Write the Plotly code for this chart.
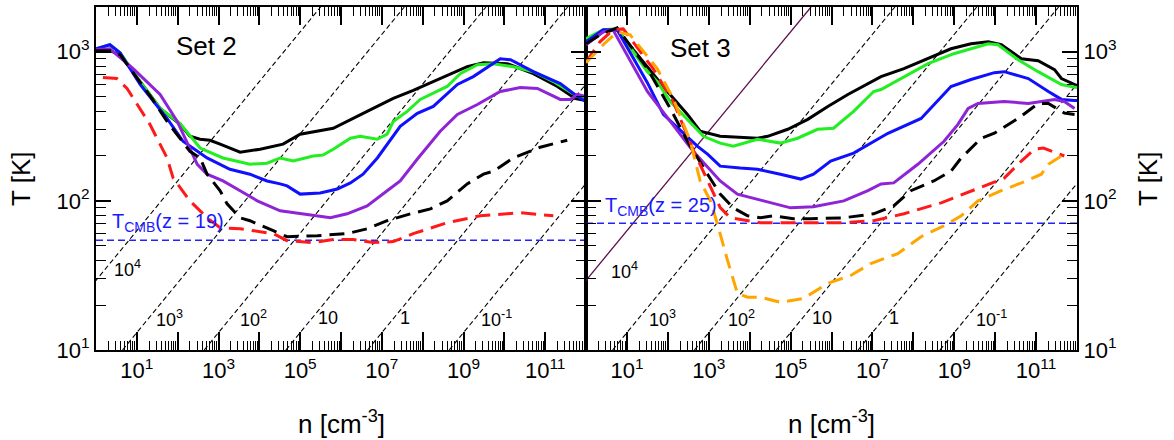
import plotly.graph_objects as go

# ---------------- data (log10 n [cm^-3], T [K]) ----------------
# Set 2
s2_black_logn = [0.0, 0.34, 0.59, 1.08, 1.57, 2.06, 2.30, 2.55, 2.79, 3.04, 3.53, 4.02, 4.58, 5.0, 5.81, 6.64, 7.28, 7.77, 8.43, 9.09, 9.49, 10.07, 10.71, 11.3, 11.74, 12.0]
s2_black_T = [1016, 1016, 955, 631, 417, 326, 271, 259, 255, 240, 212, 222, 240, 280, 307, 398, 486, 550, 661, 794, 845, 832, 713, 585, 486, 470]

s2_green_logn = [0.0, 0.34, 0.59, 1.08, 1.57, 2.06, 2.55, 3.11, 3.77, 4.19, 4.51, 4.83, 5.32, 5.56, 5.81, 6.23, 6.47, 6.89, 7.13, 7.28, 7.62, 7.94, 8.60, 8.92, 9.34, 9.73, 10.22, 10.71, 11.20, 11.79, 12.0]
s2_green_T = [1047, 1114, 985, 631, 417, 330, 226, 194, 176, 179, 194, 185, 200, 203, 222, 263, 271, 259, 280, 341, 398, 479, 585, 713, 819, 832, 794, 735, 631, 501, 479]

s2_blue_logn = [0.0, 0.34, 0.59, 1.08, 1.74, 2.13, 2.72, 3.28, 3.77, 4.19, 4.51, 4.68, 5.0, 5.49, 5.91, 6.23, 6.54, 6.89, 7.45, 7.87, 8.26, 8.85, 9.24, 9.90, 10.15, 10.71, 11.37, 11.79, 12.0]
s2_blue_T = [1047, 1114, 985, 603, 357, 251, 194, 163, 151, 136, 130, 126, 111, 113, 120, 132, 151, 194, 316, 386, 430, 603, 681, 898, 884, 735, 612, 501, 464]

s2_purple_logn = [0.0, 0.34, 0.91, 1.57, 1.99, 2.48, 2.72, 3.11, 3.53, 3.95, 4.51, 5.0, 5.74, 6.15, 6.64, 7.13, 7.45, 7.87, 8.43, 8.85, 9.34, 9.90, 10.39, 10.81, 11.37, 11.62, 11.79, 12.0]
s2_purple_T = [1031, 1047, 770, 517, 341, 176, 151, 136, 117, 100, 85.8, 81.9, 77.0, 81.9, 92.6, 117, 136, 191, 293, 380, 443, 541, 575, 567, 479, 479, 517, 501]

s2_blackd_logn = [0.0, 0.34, 0.59, 1.08, 1.37, 1.74, 2.06, 2.30, 2.55, 2.72, 3.04, 3.21, 3.53, 3.77, 4.34, 4.68, 5.42, 6.15, 6.64, 7.13, 7.70, 8.19, 8.60, 9.09, 9.49, 9.73, 10.22, 10.88, 11.54]
s2_blackd_T = [1016, 1016, 955, 631, 486, 341, 263, 215, 194, 151, 117, 95.5, 77.0, 73.6, 63.1, 57.5, 58.4, 60.3, 65.0, 73.6, 81.9, 88.4, 100, 130, 151, 158, 194, 229, 255]

s2_red_logn = [0.17, 0.51, 0.76, 1.08, 1.32, 1.74, 1.89, 2.30, 2.72, 3.04, 3.53, 4.34, 4.68, 5.32, 5.81, 6.30, 6.79, 7.28, 7.77, 8.60, 9.41, 10.39, 11.20]
s2_red_T = [671, 661, 567, 417, 326, 194, 142, 100, 77, 66, 65, 60.3, 54.1, 52.5, 55.0, 55.0, 52.5, 53.3, 60.3, 71.3, 79.4, 83.2, 79.4]

# Set 3
s3_black_logn = [0.0, 0.42, 0.76, 1.50, 1.99, 2.48, 2.79, 3.28, 3.70, 4.19, 4.44, 4.93, 5.42, 5.91, 6.40, 6.89, 7.21, 7.77, 8.36, 8.92, 9.41, 9.83, 10.15, 10.64, 11.05, 11.45, 11.62, 11.94, 12.0]
s3_black_T = [1131, 1359, 1402, 794, 541, 380, 293, 271, 267, 263, 271, 302, 352, 430, 517, 612, 681, 770, 898, 1047, 1131, 1166, 1114, 898, 871, 758, 661, 603, 585]

s3_green_logn = [0.0, 0.42, 0.76, 1.50, 1.74, 2.06, 2.87, 3.28, 3.60, 4.19, 4.75, 5.17, 5.66, 6.05, 6.54, 7.03, 7.21, 7.77, 8.36, 8.99, 9.83, 10.07, 10.56, 11.05, 11.62, 11.86, 12.0]
s3_green_T = [1222, 1402, 1423, 735, 631, 464, 271, 244, 233, 259, 244, 263, 302, 307, 398, 541, 558, 681, 832, 970, 1131, 1114, 884, 735, 603, 585, 575]

s3_blue_logn = [0.0, 0.42, 0.76, 1.50, 1.89, 2.30, 2.72, 2.97, 3.28, 3.77, 4.19, 4.75, 5.25, 5.56, 5.98, 6.54, 7.03, 7.38, 8.19, 8.92, 9.41, 9.98, 10.22, 10.81, 11.30, 11.62, 11.94, 12.0]
s3_blue_T = [1166, 1402, 1402, 620, 380, 300, 233, 206, 171, 166, 163, 151, 140, 151, 185, 209, 251, 284, 357, 585, 651, 724, 735, 661, 541, 479, 471, 471]

s3_purple_logn = [0.0, 0.42, 0.66, 1.50, 2.06, 2.62, 3.28, 3.70, 4.34, 5.0, 5.56, 6.30, 6.89, 7.21, 7.52, 8.11, 8.75, 9.09, 9.34, 9.58, 10.22, 10.81, 11.45, 11.69, 11.94]
s3_purple_T = [1114, 1359, 1402, 541, 341, 215, 136, 111, 100, 89.8, 91.2, 100, 117, 130, 132, 176, 251, 326, 417, 450, 464, 450, 479, 464, 417]

s3_blackd_logn = [0.0, 0.34, 0.76, 1.50, 2.06, 2.48, 2.97, 3.28, 3.60, 3.95, 4.26, 4.58, 5.07, 5.49, 6.30, 7.03, 7.52, 7.94, 8.50, 8.92, 9.17, 9.66, 9.98, 10.56, 11.05, 11.30, 11.69, 11.94]
s3_blackd_T = [1131, 1298, 1445, 770, 417, 251, 151, 111, 89.8, 79.4, 77.0, 79.4, 75.9, 75.9, 77.0, 81.9, 92.6, 117, 136, 158, 194, 263, 284, 357, 450, 450, 388, 380]

s3_red_logn = [0.0, 0.34, 0.66, 0.91, 1.64, 2.13, 2.62, 2.97, 3.28, 3.53, 4.26, 5.07, 6.23, 7.03, 7.77, 8.68, 9.58, 10.22, 10.64, 10.96, 11.18, 11.54, 11.69]
s3_red_T = [850, 1166, 1402, 1423, 770, 464, 220, 136, 90, 77, 71.3, 71.3, 71.3, 73.6, 81.9, 97, 122, 142, 185, 222, 226, 206, 200]

s3_orange_logn = [0.0, 0.42, 0.76, 1.08, 1.74, 2.13, 2.55, 2.79, 3.04, 3.21, 3.46, 3.70, 3.95, 4.26, 4.75, 5.32, 5.91, 6.47, 6.96, 7.62, 8.19, 8.75, 9.17, 9.58, 10.15, 10.64, 11.13, 11.30, 11.62]
s3_orange_T = [845, 1114, 1359, 1298, 770, 486, 251, 136, 100, 70.3, 39.8, 24.0, 22.6, 22.6, 20.9, 22.2, 28.0, 31.6, 38.0, 44.3, 57.5, 68.1, 79.4, 100, 117, 132, 151, 176, 200]

# Jeans-mass reference lines: mass labels and log10 n where each line hits T = 10 K
jeans_labels = ["10<sup>4</sup>", "10<sup>3</sup>", "10<sup>2</sup>", "10", "1", "10<sup>-1</sup>"]
jeans_logn_at_T10 = [-1.4, 0.65, 2.65, 4.65, 6.65, 8.65]
jeans_slope = 1 / 3

# CMB temperature reference
panel_z = [19, 25]
T_CMB0 = 2.725

panel_titles = ["Set 2", "Set 3"]
x_tick_exps = list(range(0, 13))
y_tick_exps = [1, 2, 3]
minor_digits = [2, 3, 4, 5, 6, 7, 8, 9]

# ---------------- styling ----------------
FONT = "Liberation Sans, Arial, Helvetica, sans-serif"
C_BLACK = "#000000"
C_GREEN = "#22ee22"
C_BLUE = "#1010ff"
C_PURPLE = "#8e24d6"
C_RED = "#ff1a1a"
C_ORANGE = "#ffa500"
C_MAROON = "#5c0e4c"

XR = [0, 12]
YR = [1, 3.3]

fig = go.Figure()


def add_curve(logn, T, color, dash, xa, ya):
    fig.add_trace(go.Scatter(
        x=[10 ** v for v in logn], y=T, mode="lines",
        line=dict(color=color, width=3, dash=dash),
        xaxis=xa, yaxis=ya, hoverinfo="skip"))


for p, (xa, ya) in enumerate([("x", "y"), ("x2", "y2")]):
    # Jeans lines
    for i, c in enumerate(jeans_logn_at_T10):
        top = c + (YR[1] - 1) / jeans_slope
        if p == 1 and i == 0:
            col, dsh, w = C_MAROON, "solid", 1.3
        else:
            col, dsh, w = C_BLACK, "5px,3px", 1.1
        fig.add_trace(go.Scatter(
            x=[10 ** c, 10 ** top], y=[10, 10 ** YR[1]], mode="lines",
            line=dict(color=col, width=w, dash=dsh),
            xaxis=xa, yaxis=ya, hoverinfo="skip"))
    # CMB line
    tc = T_CMB0 * (1 + panel_z[p])
    fig.add_trace(go.Scatter(
        x=[10 ** XR[0], 10 ** XR[1]], y=[tc, tc], mode="lines",
        line=dict(color="#2222ff", width=1.5, dash="7px,4px"),
        xaxis=xa, yaxis=ya, hoverinfo="skip"))

DASH = "15px,8px"
add_curve(s2_black_logn, s2_black_T, C_BLACK, "solid", "x", "y")
add_curve(s2_green_logn, s2_green_T, C_GREEN, "solid", "x", "y")
add_curve(s2_blue_logn, s2_blue_T, C_BLUE, "solid", "x", "y")
add_curve(s2_purple_logn, s2_purple_T, C_PURPLE, "solid", "x", "y")
add_curve(s2_blackd_logn, s2_blackd_T, C_BLACK, DASH, "x", "y")
add_curve(s2_red_logn, s2_red_T, C_RED, DASH, "x", "y")

add_curve(s3_black_logn, s3_black_T, C_BLACK, "solid", "x2", "y2")
add_curve(s3_green_logn, s3_green_T, C_GREEN, "solid", "x2", "y2")
add_curve(s3_blue_logn, s3_blue_T, C_BLUE, "solid", "x2", "y2")
add_curve(s3_purple_logn, s3_purple_T, C_PURPLE, "solid", "x2", "y2")
add_curve(s3_blackd_logn, s3_blackd_T, C_BLACK, DASH, "x2", "y2")
add_curve(s3_red_logn, s3_red_T, C_RED, DASH, "x2", "y2")
add_curve(s3_orange_logn, s3_orange_T, C_ORANGE, DASH, "x2", "y2")

x_minor_vals = [d * 10 ** k for k in range(XR[0], XR[1]) for d in minor_digits]
y_minor_vals = [d * 10 ** k for k in range(1, 4) for d in minor_digits if d * 10 ** k <= 10 ** YR[1]]

tickfont = dict(family=FONT, size=22, color="black")


def x_axis(domain, anchor):
    return dict(type="log", range=XR, domain=domain, anchor=anchor,
                showline=True, linecolor="black", linewidth=2,
                mirror="ticks", ticks="inside", ticklen=18, tickcolor="black", tickwidth=1.5,
                tickmode="array", tickvals=[10 ** k for k in x_tick_exps],
                ticktext=[("10<sup>%d</sup>" % k) if k % 2 == 1 else "" for k in x_tick_exps],
                tickfont=tickfont,
                minor=dict(ticks="inside", ticklen=9, tickcolor="black", tickwidth=1.2,
                           tickmode="array", tickvals=x_minor_vals))


def y_axis(anchor, side):
    return dict(type="log", range=YR, anchor=anchor, side=side,
                showline=True, linecolor="black", linewidth=2,
                mirror="ticks", ticks="inside", ticklen=15, tickcolor="black", tickwidth=1.5,
                tickmode="array", tickvals=[10 ** k for k in y_tick_exps],
                ticktext=["10<sup>%d</sup>" % k for k in y_tick_exps],
                tickfont=tickfont,
                minor=dict(ticks="inside", ticklen=10, tickcolor="black", tickwidth=1.2,
                           tickmode="array", tickvals=y_minor_vals))


SPLIT = 0.4995
fig.update_layout(
    width=1174, height=440,
    margin=dict(l=96, r=97, t=5, b=90),
    plot_bgcolor="white", paper_bgcolor="white",
    showlegend=False,
    xaxis=x_axis([0, SPLIT], "y"),
    xaxis2=x_axis([SPLIT, 1], "y2"),
    yaxis=y_axis("x", "left"),
    yaxis2=y_axis("x2", "right"),
)

ann = []
# Jeans line labels
jl_pos = [
    [(0.76, 1.547), (1.81, 1.213), (3.86, 1.213), (5.69, 1.213), (7.57, 1.213), (9.80, 1.213)],
    [(0.93, 1.533), (1.875, 1.213), (3.80, 1.213), (5.78, 1.213), (7.52, 1.213), (9.90, 1.213)],
]
for p, (xr, yr) in enumerate([("x", "y"), ("x2", "y2")]):
    for lab, (lx, ly) in zip(jeans_labels, jl_pos[p]):
        ann.append(dict(x=lx, y=ly, xref=xr, yref=yr, text=lab, showarrow=False,
                        font=dict(family=FONT, size=18, color="black"),
                        xanchor="center", yanchor="middle"))
    # Set titles
    sx, sy = [(2.70, 3.04), (2.79, 3.027)][p]
    ann.append(dict(x=sx, y=sy, xref=xr, yref=yr, text=panel_titles[p], showarrow=False,
                    font=dict(family=FONT, size=26, color="black"),
                    xanchor="center", yanchor="middle"))
    # CMB labels
    cx, cy = [(0.34, 1.853), (0.42, 1.96)][p]
    ann.append(dict(x=cx, y=cy, xref=xr, yref=yr,
                    text="T<sub>CMB</sub>(z = %d)" % panel_z[p], showarrow=False,
                    font=dict(family=FONT, size=20, color="#1a1aff"),
                    xanchor="left", yanchor="middle"))

# Axis titles
ann.append(dict(x=-0.0765, y=0.4986, xref="paper", yref="paper", text="T [K]",
                textangle=-90, showarrow=False, font=dict(family=FONT, size=26, color="black"),
                xanchor="center", yanchor="middle"))
ann.append(dict(x=1.0724, y=0.4986, xref="paper", yref="paper", text="T [K]",
                textangle=-90, showarrow=False, font=dict(family=FONT, size=26, color="black"),
                xanchor="center", yanchor="middle"))
for cxp in [(341 - 96) / 981, (831.5 - 96) / 981]:
    ann.append(dict(x=cxp, y=-0.2116, xref="paper", yref="paper", text="n [cm<sup>-3</sup>]",
                    showarrow=False, font=dict(family=FONT, size=26, color="black"),
                    xanchor="center", yanchor="middle"))

fig.update_layout(annotations=ann)

fig.write_html("out.html", config={"displayModeBar": False},
               post_script="document.body.style.margin='0px';document.body.style.overflow='hidden';")
